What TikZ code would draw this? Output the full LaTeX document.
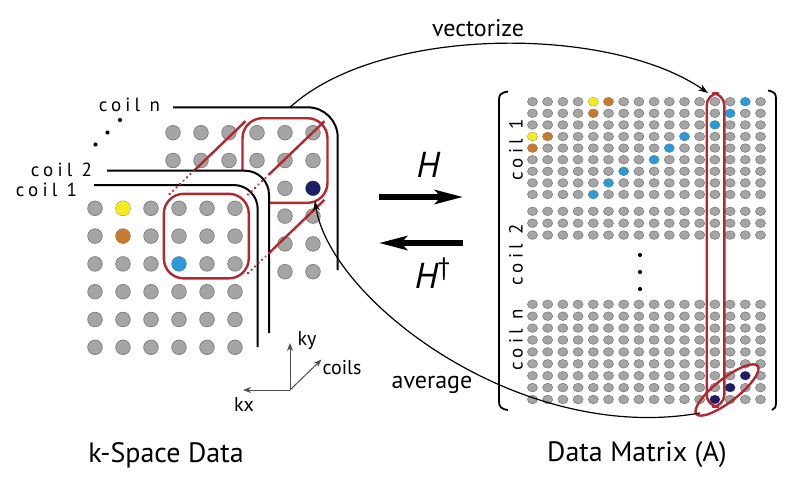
\documentclass[tikz,border=0pt]{standalone}
\usepackage{fontspec}
\setmainfont{PT Sans}
\newfontfamily\spacedfont[LetterSpace=22]{PT Sans}
\usetikzlibrary{arrows.meta}
\definecolor{dotgray}{HTML}{A5A5A5}
\definecolor{dotrim}{HTML}{7E7E7E}
\definecolor{dyellow}{HTML}{F4EA1C}
\definecolor{dorange}{HTML}{C87A2C}
\definecolor{dblue}{HTML}{2B9AD6}
\definecolor{dnavy}{HTML}{1D1E68}
\definecolor{boxred}{HTML}{B3282F}

\begin{document}
\begin{tikzpicture}[x=0.5pt,y=-0.5pt,
    kdot/.style={draw=dotrim, fill=dotgray, line width=0.35pt},
    mdot/.style={draw=dotrim, fill=dotgray, line width=0.3pt},
    coilline/.style={line width=1pt, black},
    redline/.style={line width=1.2pt, boxred},
    hiddenline/.style={line width=1.3pt, boxred, line cap=round, dash pattern=on 0.01pt off 2.4pt},
    axisline/.style={line width=0.5pt, black!70, -{Stealth[length=4pt,width=3pt]}},
    bigarrow/.style={line width=2.6pt, -{Stealth[length=14pt,width=7pt,inset=3pt]}}]
\useasboundingbox (0,0) rectangle (799,482);

% coil n plane
\foreach \i in {0,...,5}
  \foreach \j in {0,...,5}
    \filldraw[kdot] ({173+28*\i},{132.7+27.8*\j}) circle (7.3);
\fill[dnavy] (313,188.3) circle (7.3);
\draw[coilline, rounded corners=15] (173,107.3) -| (337.7,270);
\draw[redline, rounded corners=10] (242.5,118.2) rectangle (327.5,202.8);
\draw[redline] (245.5,121.2) -- (194,170.7);
\draw[redline] (324.5,121.2) -- (269,174.5);
\draw[redline] (324.5,199.8) -- (269,253.1);

% coil 2 plane
\fill[white, rounded corners=12] (105,170.7) -- (269,170.7) -- (269,345) -- (105,345) -- cycle;
\draw[coilline, rounded corners=12] (107,170.7) -| (269,333);

% coil 1 plane
\fill[white, rounded corners=12] (90,185) -- (257.7,185) -- (257.7,352) -- (90,352) -- cycle;
\draw[coilline, rounded corners=12] (94,185) -| (257.7,347);

\draw[hiddenline] (194,170.7) -- (166.8,196.8);
\draw[hiddenline] (269,174.5) -- (245.8,196.8);
\draw[hiddenline] (269,253.1) -- (245.8,275.4);

\foreach \i in {0,...,5}
  \foreach \j in {0,...,5}
    \filldraw[kdot] ({95+28*\i},{208.3+27.8*\j}) circle (7.3);
\fill[dyellow] (123,208.3) circle (7.3);
\fill[dorange] (123,236.1) circle (7.3);
\fill[dblue] (179,263.9) circle (7.3);
\draw[redline, rounded corners=10] (163.8,193.8) rectangle (248.8,278.4);

% coil labels
\node[anchor=east, font=\spacedfont\fontsize{9.5}{10}\selectfont] (lcoiln) at (167,104.5) {coil n};
\node[anchor=east, font=\spacedfont\fontsize{9.5}{10}\selectfont] (lcoil2) at (99,169.5) {coil 2};
\node[anchor=east, font=\spacedfont\fontsize{9.5}{10}\selectfont] (lcoil1) at (84,189.5) {coil 1};
\fill (120,120) circle (2.1) (107.5,132.5) circle (2.1) (95.5,144.5) circle (2.1);

% axes
\coordinate (o) at (290,390);
\coordinate (kxend) at (243,390);
\coordinate (kyend) at (290,343);
\coordinate (coilsend) at (321.5,359.5);
\draw[axisline] (o) -- (kxend);
\draw[axisline] (o) -- (kyend);
\draw[axisline] (o) -- (coilsend);
\node[font=\fontsize{10}{10}\selectfont] (kx) at (244,404) {kx};
\node[font=\fontsize{10}{10}\selectfont] (ky) at (307,341) {ky};
\node[font=\fontsize{10}{10}\selectfont] (coils) at (342,368) {coils};

% H arrows
\coordinate (hfrom) at (379,197);
\coordinate (hto) at (463,197);
\coordinate (hdfrom) at (463,243);
\coordinate (hdto) at (379,243);
\draw[bigarrow] (hfrom) -- (hto);
\draw[bigarrow] (hdfrom) -- (hdto);
\node[font=\fontsize{18}{18}\selectfont\itshape] (hlabel) at (428,165) {H};
\node[font=\fontsize{18}{18}\selectfont\itshape] (hdlabel) at (433,273) {H\textsuperscript{\upshape\textdagger}};

% data matrix
\draw[coilline, line width=0.9pt] (508,91.5) .. controls (500,93) and (499,95) .. (499,100) -- (499,401) .. controls (499,407) and (501,409) .. (508,410);
\draw[coilline, line width=0.9pt] (768,90.5) .. controls (775,92) and (776,94) .. (776,99) -- (776,402) .. controls (776,407) and (775,409) .. (772,410);
\foreach \i in {0,...,15} {
  \foreach \j in {0,...,8}
    \filldraw[mdot] ({532.5+15.2*\i},{101.7+11.6*\j}) circle [x radius=5, y radius=4.3];
  \foreach \j in {0,...,2}
    \filldraw[mdot] ({532.5+15.2*\i},{211.3+11.9*\j}) circle [x radius=5, y radius=4.3];
  \foreach \j in {0,...,8}
    \filldraw[mdot] ({532.5+15.2*\i},{304.3+11.9*\j}) circle [x radius=5, y radius=4.3];
}
\foreach \i/\j/\c in {4/0/dyellow, 5/0/dorange, 14/0/dblue, 4/1/dorange, 13/1/dblue,
    12/2/dblue, 0/3/dyellow, 1/3/dorange, 10/3/dblue, 0/4/dorange, 9/4/dblue,
    8/5/dblue, 6/6/dblue, 5/7/dblue, 4/8/dblue}
  \fill[\c] ({532.5+15.2*\i},{101.7+11.6*\j}) circle [x radius=5, y radius=4.3];
\foreach \i/\j in {12/8, 13/7, 14/6}
  \fill[dnavy] ({532.5+15.2*\i},{304.3+11.9*\j}) circle [x radius=5, y radius=4.3];
\fill (640,255) circle (2.1) (640,272) circle (2.1) (640,289) circle (2.1);
\draw[redline, rounded corners=6] (706.7,93.3) rectangle (724.3,406.7);
\draw[redline] (727,390) ellipse [x radius=39, y radius=11.5, rotate=38];

\node[rotate=90, font=\spacedfont\fontsize{9.5}{10}\selectfont] (mcoil1) at (516,150) {coil 1};
\node[rotate=90, font=\spacedfont\fontsize{9.5}{10}\selectfont] (mcoil2) at (516,255) {coil 2};
\node[rotate=90, font=\spacedfont\fontsize{9.5}{10}\selectfont] (mcoiln) at (516,340) {coil n};

% vectorize / average
\coordinate (vstart) at (290,107.3);
\coordinate (vend) at (708,93);
\draw[line width=0.6pt, -{Stealth[length=5pt,width=3.5pt]}] (vstart) .. controls (380,25) and (610,25) .. (vend);
\node[font=\fontsize{12}{12}\selectfont] (vectorize) at (478,28) {vectorize};
\coordinate (astart) at (700,413);
\coordinate (aend) at (315,201);
\draw[line width=0.6pt, -{Stealth[length=5pt,width=3.5pt]}] (astart) .. controls (520,445) and (330,300) .. (aend);
\node[font=\fontsize{12}{12}\selectfont] (average) at (432,385) {average};

% captions
\node[font=\fontsize{14}{14}\selectfont] (kspace) at (166,455) {k-Space Data};
\node[font=\fontsize{14}{14}\selectfont] (datamatrix) at (637,455) {Data Matrix (A)};
\end{tikzpicture}
\end{document}
